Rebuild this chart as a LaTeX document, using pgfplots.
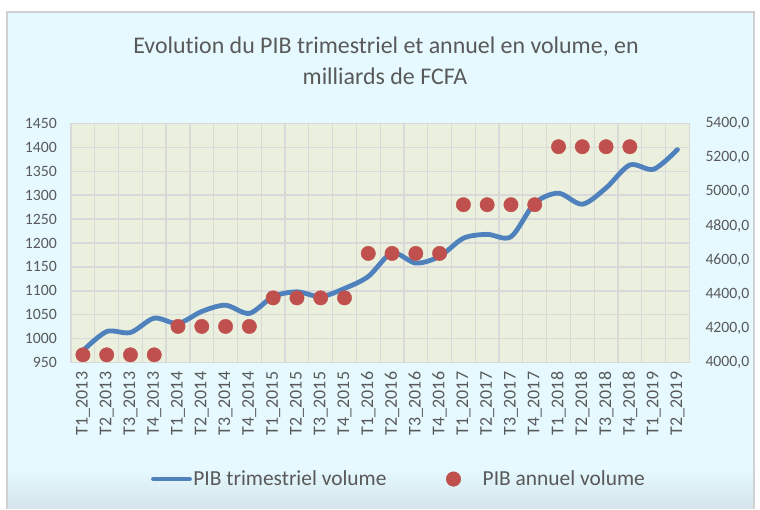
\documentclass[border=0pt]{standalone}
\usepackage{pgfplots}
\pgfplotsset{compat=1.18}
\usepackage{fontspec}
\setmainfont[Ligatures=NoCommon]{Carlito}
\definecolor{bgc}{RGB}{229,249,255}
\definecolor{bgb}{RGB}{212,228,234}
\definecolor{plotbg}{RGB}{235,240,222}
\definecolor{gridc}{RGB}{217,217,217}
\definecolor{txt}{RGB}{89,89,89}
\definecolor{lineblue}{RGB}{79,129,189}
\definecolor{dotred}{RGB}{192,80,77}
\definecolor{framec}{RGB}{208,208,208}
\begin{document}
\begin{tikzpicture}[x=1bp,y=1bp]
\fill[white] (0,0) rectangle (760,509);
\fill[bgc] (7,0) rectangle (754,497);
\shade[top color=bgc, bottom color=bgb] (7,0) rectangle (754,40);
\draw[framec, line width=1.5bp] (7,0) -- (7,497) -- (754,497) -- (754,0);
\node[txt, font=\fontsize{24}{28}\selectfont] at (386,462) {Evolution du PIB trimestriel et annuel en volume, en};
\node[txt, font=\fontsize{24}{28}\selectfont] at (385,433) {milliards de FCFA};
\begin{axis}[
  at={(71bp,146.3bp)}, anchor=south west, scale only axis,
  width=618.3bp, height=239.4bp,
  xmin=-0.5, xmax=25.5, ymin=950, ymax=1450,
  ytick={950,1000,...,1450},
  xtick={0,...,25},
  xticklabels={T1\_2013,T2\_2013,T3\_2013,T4\_2013,T1\_2014,T2\_2014,T3\_2014,T4\_2014,T1\_2015,T2\_2015,T3\_2015,T4\_2015,T1\_2016,T2\_2016,T3\_2016,T4\_2016,T1\_2017,T2\_2017,T3\_2017,T4\_2017,T1\_2018,T2\_2018,T3\_2018,T4\_2018,T1\_2019,T2\_2019},
  xticklabel style={rotate=90, anchor=east, font=\fontsize{18}{21}\selectfont, text=txt, inner sep=0pt},
  xticklabel shift=9bp,
  yticklabel style={font=\fontsize{15.8}{18}\selectfont, text=txt, inner sep=0pt},
  yticklabel shift=14bp,
  /pgf/number format/1000 sep={},
  /pgf/number format/assume math mode=true,
  minor xtick={-0.5,0.5,...,25.5},
  xminorgrids, ymajorgrids,
  major tick length=0, minor tick length=0,
  axis background/.style={fill=plotbg},
  axis line style={draw=gridc, line width=1.3bp},
  grid style={draw=gridc, line width=1.3bp},
  minor grid style={draw=gridc, line width=1.3bp},
  clip=false,
]
\addplot[lineblue, line width=4.8bp, smooth, line cap=round] coordinates {
(0,975) (1,1015) (2,1013) (3,1043) (4,1032) (5,1057) (6,1070) (7,1053)
(8,1088) (9,1098) (10,1088) (11,1105) (12,1130) (13,1179) (14,1158) (15,1172)
(16,1210) (17,1218) (18,1213) (19,1283) (20,1304) (21,1281) (22,1315) (23,1363)
(24,1354) (25,1395)};
\end{axis}
\begin{axis}[
  at={(71bp,146.3bp)}, anchor=south west, scale only axis,
  width=618.3bp, height=239.4bp,
  xmin=-0.5, xmax=25.5, ymin=4000, ymax=5400,
  axis x line=none, axis y line*=right,
  y axis line style={draw=none},
  ytick={4000,4200,...,5400},
  major tick length=0,
  yticklabel style={font=\fontsize{15.8}{18}\selectfont, text=txt, inner sep=0pt, anchor=west,
    /pgf/number format/.cd, fixed, fixed zerofill, precision=1, use comma, 1000 sep={}},
  /pgf/number format/assume math mode=true,
  yticklabel shift=16bp,
  clip=false,
  legend columns=2,
  legend style={at={(0.53,-0.486)}, anchor=center, draw=none, fill=none,
    font=\fontsize{21.5}{25}\selectfont, text=txt,
    nodes={inner sep=1.5bp},
    /tikz/every even column/.append style={column sep=58bp}},
]
\addlegendimage{legend image code/.code={\draw[lineblue, line width=4.8bp, line cap=round] (2bp,0bp) -- (38bp,0bp);}}
\addlegendentry{PIB trimestriel volume}
\addplot[only marks, mark=*, mark size=7.2bp, mark options={fill=dotred, draw=dotred},
  legend image code/.code={\path[draw=none,fill=none] (0bp,-1bp) rectangle (35bp,1bp); \fill[dotred] (7.3bp,0bp) circle[radius=7.3bp];}] coordinates {
(0,4046) (1,4046) (2,4046) (3,4046)
(4,4212) (5,4212) (6,4212) (7,4212)
(8,4379) (9,4379) (10,4379) (11,4379)
(12,4639) (13,4639) (14,4639) (15,4639)
(16,4924) (17,4924) (18,4924) (19,4924)
(20,5263) (21,5263) (22,5263) (23,5263)};
\addlegendentry{PIB annuel volume}
\end{axis}
\end{tikzpicture}
\end{document}
